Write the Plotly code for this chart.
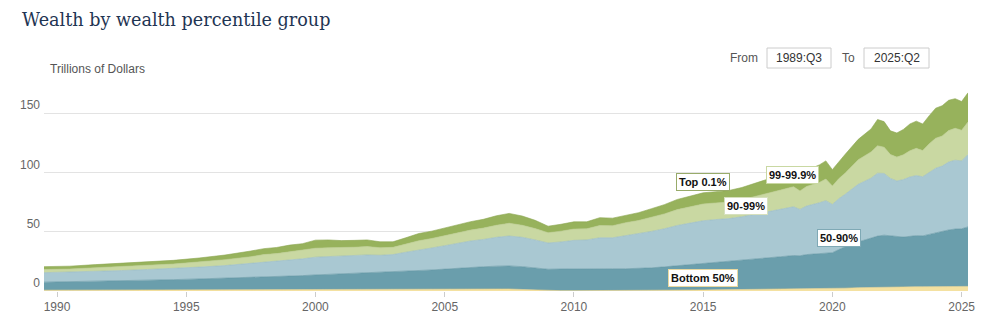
import plotly.graph_objects as go

# Quarter dates (quarter start)
dates = [
    "1989-07-01", "1990-07-01", "1991-07-01", "1992-07-01", "1993-07-01", "1994-07-01",
    "1995-07-01", "1996-07-01", "1997-07-01", "1998-01-01", "1998-07-01", "1999-01-01",
    "1999-07-01", "2000-01-01", "2000-07-01", "2001-01-01", "2001-07-01", "2002-01-01",
    "2002-07-01", "2003-01-01", "2003-07-01", "2004-01-01", "2004-07-01", "2005-01-01",
    "2005-07-01", "2006-01-01", "2006-07-01", "2007-01-01", "2007-07-01", "2008-01-01",
    "2008-07-01", "2009-01-01", "2009-07-01", "2010-01-01", "2010-07-01", "2011-01-01",
    "2011-07-01", "2012-01-01", "2012-07-01", "2013-01-01", "2013-07-01", "2014-01-01",
    "2014-07-01", "2015-01-01", "2015-07-01", "2016-01-01", "2016-07-01", "2017-01-01",
    "2017-07-01", "2018-01-01", "2018-07-01", "2018-10-01", "2019-01-01", "2019-07-01",
    "2019-10-01", "2020-01-01", "2020-04-01", "2020-07-01", "2021-01-01", "2021-07-01",
    "2021-10-01", "2022-01-01", "2022-04-01", "2022-07-01", "2022-10-01", "2023-01-01",
    "2023-04-01", "2023-07-01", "2023-10-01", "2024-01-01", "2024-04-01", "2024-07-01",
    "2024-10-01", "2025-01-01", "2025-04-01",
]

# Trillions of dollars, by group
bottom_50 = [
    0.7, 0.75, 0.8, 0.85, 0.9, 0.95, 1.0, 1.05, 1.1, 1.15, 1.2, 1.25,
    1.3, 1.35, 1.4, 1.45, 1.5, 1.55, 1.6, 1.65, 1.7, 1.8, 1.85, 1.9,
    1.95, 1.95, 1.9, 1.85, 1.7, 1.3, 0.8, 0.4, 0.3, 0.3, 0.3, 0.3,
    0.3, 0.35, 0.4, 0.5, 0.6, 0.7, 0.8, 0.9, 1.0, 1.1, 1.2, 1.3,
    1.4, 1.5, 1.6, 1.65, 1.7, 1.85, 1.9, 2.0, 2.2, 2.4, 2.8, 3.1,
    3.3, 3.4, 3.5, 3.6, 3.6, 3.6, 3.6, 3.6, 3.7, 3.7, 3.75, 3.8,
    3.85, 3.9, 3.9,
]
pct_50_90 = [
    6.8, 7.05, 7.4, 7.85, 8.3, 8.65, 9.2, 9.75, 10.4, 10.75, 11.0, 11.35,
    11.7, 12.25, 12.6, 12.95, 13.3, 13.75, 14.0, 14.35, 14.9, 15.4, 15.95, 16.6,
    17.35, 18.05, 18.6, 19.15, 19.5, 19.3, 18.8, 18.0, 18.3, 18.5, 18.5, 18.6,
    18.5, 18.45, 18.6, 19.1, 19.8, 20.6, 21.5, 22.5, 23.4, 24.1, 24.9, 25.8,
    26.6, 27.5, 28.4, 28.15, 29.1, 29.75, 30.3, 30.4, 32.8, 35.1, 38.7, 41.5,
    43.1, 43.8, 43.3, 42.2, 42.0, 42.6, 43.2, 43.0, 44.3, 45.7, 46.65, 47.8,
    48.55, 48.7, 50.3,
]
pct_90_99 = [
    8.0, 8.1, 8.5, 8.6, 9.0, 9.3, 10.0, 10.7, 11.8, 12.6, 12.8, 13.7,
    14.2, 15.0, 15.0, 14.9, 15.0, 15.2, 14.6, 14.8, 16.2, 17.7, 18.6, 19.8,
    21.1, 22.3, 23.1, 24.4, 25.3, 24.8, 23.6, 22.2, 22.9, 24.0, 24.4, 26.1,
    26.2, 28.0, 29.2, 30.8, 32.2, 34.1, 35.1, 36.0, 36.0, 36.0, 36.7, 37.7,
    38.8, 40.0, 41.2, 39.2, 41.0, 43.0, 44.2, 40.8, 43.0, 44.3, 48.7, 50.8,
    53.2, 52.2, 48.4, 47.2, 48.6, 50.2, 50.8, 50.0, 52.2, 54.4, 55.2, 57.4,
    58.2, 57.4, 61.2,
]
pct_99_999 = [
    2.7, 2.7, 3.0, 3.2, 3.6, 3.9, 4.3, 5.0, 5.7, 6.3, 6.6, 6.9,
    7.1, 7.6, 7.6, 7.3, 7.2, 7.1, 6.4, 6.1, 6.7, 7.6, 8.0, 8.5,
    9.1, 9.2, 9.6, 10.2, 10.8, 10.2, 9.6, 8.7, 9.1, 9.6, 9.4, 10.4,
    10.2, 11.0, 11.4, 12.0, 12.6, 13.4, 13.8, 14.2, 14.1, 14.0, 14.4, 15.0,
    15.6, 16.4, 17.0, 15.6, 16.6, 17.2, 18.2, 15.6, 17.0, 18.0, 20.8, 22.2,
    23.2, 22.2, 20.2, 20.2, 21.0, 22.2, 23.0, 22.2, 24.2, 25.4, 25.4, 26.6,
    27.0, 26.0, 27.4,
]
top_01 = [
    2.4, 2.4, 2.6, 2.8, 3.0, 3.1, 3.4, 3.9, 4.8, 5.0, 5.2, 5.6,
    5.7, 6.8, 6.6, 6.0, 5.8, 5.6, 5.0, 4.7, 5.5, 6.1, 6.2, 6.4,
    6.7, 7.1, 7.4, 8.0, 8.3, 7.8, 7.0, 5.5, 5.8, 6.1, 5.9, 6.6,
    6.4, 6.4, 6.6, 7.2, 7.8, 8.6, 9.2, 9.4, 9.5, 9.8, 10.3, 11.2,
    12.2, 12.8, 13.4, 12.6, 13.6, 14.8, 15.4, 13.8, 14.6, 15.8, 17.2, 19.4,
    22.2, 21.6, 20.0, 20.4, 21.4, 22.6, 23.0, 22.4, 23.8, 25.4, 25.6, 25.6,
    25.0, 24.2, 24.8,
]

series_names = ["Bottom 50%", "50-90%", "90-99%", "99-99.9%", "Top 0.1%"]
series_values = [bottom_50, pct_50_90, pct_90_99, pct_99_999, top_01]
fill_colors = ["#f4e1a1", "#6a9eac", "#a9c8d2", "#c9d8a2", "#97b25c"]
line_colors = ["#ecd48a", "#5f93a1", "#96b9c4", "#bccd90", "#8ba650"]
label_borders = ["#ead9a0", "#7fa9b5", "#d6e0bd", "#c9d8a2", "#98ab6a"]

# label anchor dates and y-values (trillions) for the series tags
label_x = ["2015-01-01", "2020-04-01", "2016-09-01", "2018-06-20", "2015-01-01"]
label_y = [11, 45, 72, 98, 92]

y_ticks = [0, 50, 100, 150]

fig = go.Figure()
for name, vals, fc, lc in zip(series_names, series_values, fill_colors, line_colors):
    fig.add_trace(go.Scatter(
        x=dates, y=vals, name=name, mode="lines", stackgroup="one",
        fillcolor=fc, line=dict(color=lc, width=0.6),
        hoverinfo="skip",
    ))

W, H = 1000, 328
L, R, T, B = 44, 32, 84, 37
pw, ph = W - L - R, H - T - B

def px(xp):
    return (xp - L) / pw

def py(yp):
    return (H - B - yp) / ph

for name, xv, yv, bc in zip(series_names, label_x, label_y, label_borders):
    fig.add_annotation(
        x=xv, y=yv, xref="x", yref="y", text="<b>%s</b>" % name, showarrow=False,
        font=dict(family="Liberation Sans, Arial", size=11, color="#111111"),
        bgcolor="#ffffff", bordercolor=bc, borderwidth=1, borderpad=2,
        xanchor="center", yanchor="middle",
    )

# header texts
fig.add_annotation(x=px(48), y=py(69), xref="paper", yref="paper", text="Trillions of Dollars",
                   showarrow=False, xanchor="left", yanchor="middle",
                   font=dict(family="Liberation Sans, Arial", size=12, color="#555555"))
fig.add_annotation(x=px(760), y=py(58), xref="paper", yref="paper", text="From",
                   showarrow=False, xanchor="right", yanchor="middle",
                   font=dict(family="Liberation Sans, Arial", size=12, color="#555555"))
fig.add_annotation(x=px(857), y=py(58), xref="paper", yref="paper", text="To",
                   showarrow=False, xanchor="right", yanchor="middle",
                   font=dict(family="Liberation Sans, Arial", size=12, color="#555555"))
for (x0, x1, txt) in [(767, 831, "1989:Q3"), (864, 929, "2025:Q2")]:
    fig.add_shape(type="rect", xref="paper", yref="paper", x0=px(x0), x1=px(x1),
                  y0=py(68), y1=py(48), line=dict(color="#cccccc", width=1),
                  fillcolor="#ffffff")
    fig.add_annotation(x=px((x0 + x1) / 2), y=py(58), xref="paper", yref="paper", text=txt,
                       showarrow=False, xanchor="center", yanchor="middle",
                       font=dict(family="Liberation Sans, Arial", size=12, color="#333333"))

fig.update_layout(
    width=W, height=H,
    margin=dict(l=L, r=R, t=T, b=B),
    paper_bgcolor="#ffffff", plot_bgcolor="#ffffff",
    showlegend=False,
    title=dict(text="Wealth by wealth percentile group", x=0.022, xanchor="left",
               xref="container", y=1 - 20 / H, yref="container", yanchor="middle",
               font=dict(family="DejaVu Serif", size=17.6, color="#1f3553")),
)
fig.update_xaxes(
    type="date", range=["1989-07-01", "2025-04-01"],
    tick0="1990-01-01", dtick="M60", tickformat="%Y",
    ticks="outside", ticklen=5, tickcolor="#cccccc",
    showgrid=False, showline=False, zeroline=False,
    tickfont=dict(family="Liberation Sans, Arial", size=12, color="#666666"),
)
fig.update_yaxes(
    range=[0, 175], tickvals=y_ticks, ticktext=[str(v) for v in y_ticks],
    showgrid=True, gridcolor="#e3e3e3", gridwidth=1, zeroline=False, showline=False,
    ticks="", ticklabelposition="outside top", ticklabelstandoff=3,
    tickfont=dict(family="Liberation Sans, Arial", size=12, color="#666666"),
)

fig.write_html("out.html")
